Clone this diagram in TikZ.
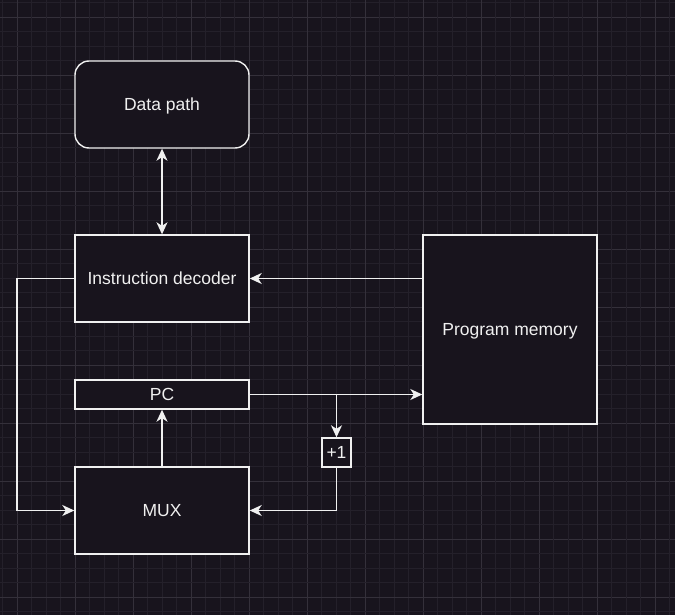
\documentclass[tikz,border=0pt]{standalone}
\usepackage{fontspec}
\setmainfont{Liberation Sans}
\usetikzlibrary{arrows.meta}
\definecolor{bg}{HTML}{18141D}
\definecolor{gridminor}{HTML}{24202A}
\definecolor{gridmajor}{HTML}{34303A}
\definecolor{ln}{HTML}{F0F0F0}
\begin{document}
\begin{tikzpicture}[x=1pt,y=-1pt,
  blk/.style={draw=ln,line width=1.4pt,fill=bg,text=ln,font=\fontsize{17.5}{20}\selectfont,inner sep=0pt,text height=12.5pt,text depth=0pt},
  tip/.tip={Stealth[length=12pt,width=11pt,inset=3.5pt]},
  conn/.style={draw=ln,line width=1.4pt,-tip},
  bconn/.style={draw=ln,line width=1.4pt,tip-tip},
  wire/.style={draw=ln,line width=1.4pt}]
\fill[bg] (0,0) rectangle (675,615);
\useasboundingbox (0,0) rectangle (675,615);
% grid
\foreach \i in {0,...,46} {
  \pgfmathsetmacro{\p}{2.5+14.5*\i}
  \pgfmathtruncatemacro{\m}{mod(\i,4)}
  \ifnum\m=1
    \draw[gridmajor,line width=0.7pt] (\p,0) -- (\p,615);
    \draw[gridmajor,line width=0.7pt] (0,\p) -- (675,\p);
  \else
    \draw[gridminor,line width=0.6pt] (\p,0) -- (\p,615);
    \draw[gridminor,line width=0.6pt] (0,\p) -- (675,\p);
  \fi
}
% nodes
\node[blk,rounded corners=14pt,minimum width=174pt,minimum height=87pt] (dp) at (162,104.5) {Data path};
\node[blk,minimum width=174pt,minimum height=87pt] (id) at (162,278.5) {Instruction decoder};
\node[blk,minimum width=174pt,minimum height=29pt] (pc) at (162,394.5) {PC};
\node[blk,minimum width=174pt,minimum height=87pt] (mux) at (162,510.5) {MUX};
\node[blk,minimum width=174pt,minimum height=189pt] (pm) at (510,329.5) {Program memory};
\node[blk,minimum width=29pt,minimum height=29pt] (inc) at (336.5,452.5) {+1};
\coordinate (lx) at (17,0);
\coordinate (br) at (336.5,394.5);
% connectors
\draw[bconn] (dp.south) -- (id.north);
\draw[conn] (pm.west |- id.east) -- (id.east);
\draw[conn] (id.west) -- (lx |- id.west) -- (lx |- mux.west) -- (mux.west);
\draw[conn] (pc.east) -- (pm.west |- pc.east);
\draw[conn] (br) -- (inc.north);
\draw[conn] (inc.south) |- (mux.east);
\draw[conn] (mux.north) -- (pc.south);
\end{tikzpicture}
\end{document}
